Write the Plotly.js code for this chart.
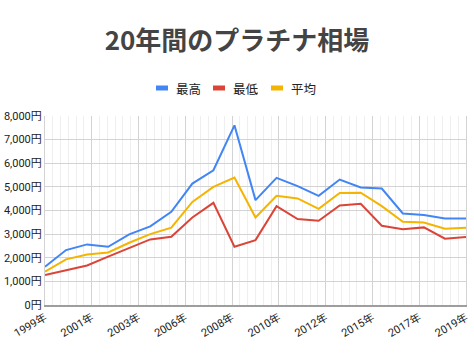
<!DOCTYPE html>
<html>
<head>
<meta charset="utf-8">
<script src="https://cdn.plot.ly/plotly-3.0.1.min.js"></script>
<style>html,body{margin:0;padding:0;background:#fff}#chart{width:474px;height:361px}</style>
</head>
<body>
<div id="chart"></div>
<script>
// Data (円)
const years = [1999,2000,2001,2002,2003,2004,2005,2006,2007,2008,2009,2010,2011,2012,2013,2014,2015,2016,2017,2018,2019];
const seriesNames = ["最高", "最低", "平均"];
const highValues = [1620,2325,2565,2465,2990,3330,3945,5140,5705,7605,4440,5380,5030,4620,5310,4975,4930,3875,3805,3665,3665];
const lowValues  = [1270,1480,1675,2045,2395,2775,2885,3705,4325,2465,2745,4185,3635,3565,4210,4285,3355,3210,3285,2805,2875];
const avgValues  = [1410,1930,2140,2225,2635,3000,3270,4365,5000,5395,3705,4620,4510,4070,4745,4750,4185,3520,3495,3225,3270];
const xTickLabels = ["1999年","2001年","2003年","2006年","2008年","2010年","2012年","2015年","2017年","2019年"];
const yTickValues = [0,1000,2000,3000,4000,5000,6000,7000,8000];

const colors = ["#4285F4", "#DB4437", "#F4B400"];
const W = 474, H = 361;
const M = {l: 45, r: 8, t: 116, b: 56};
const pw = W - M.l - M.r, ph = H - M.t - M.b;
const px = x => (x - M.l) / pw;
const py = y => (H - M.b - y) / ph;

const xMin = years[0], xMax = years[years.length - 1];
const nMajor = xTickLabels.length - 1;
const majorStep = (xMax - xMin) / nMajor;
const xTickVals = xTickLabels.map((_, i) => xMin + i * majorStep);

const font = 'Roboto, "Noto Sans CJK JP", sans-serif';
const allSeries = [highValues, lowValues, avgValues];
const traces = allSeries.map((vals, i) => ({
  type: "scatter", mode: "lines", x: years, y: vals, name: seriesNames[i],
  line: {color: colors[i], width: 2}, showlegend: false, hoverinfo: "x+y"
}));

// manual legend (swatches + labels)
const legendX = [156, 213, 271];
const shapes = [];
const annotations = [];
seriesNames.forEach((n, i) => {
  shapes.push({type: "rect", xref: "paper", yref: "paper",
    x0: px(legendX[i]), x1: px(legendX[i] + 12), y0: py(90.5), y1: py(85.5),
    fillcolor: colors[i], line: {width: 0}});
  annotations.push({xref: "paper", yref: "paper", x: px(legendX[i] + 18), y: py(88),
    xanchor: "left", yanchor: "middle", showarrow: false, text: n,
    font: {family: '"Noto Sans CJK JP", sans-serif', size: 12.5, color: "#222"}});
});

const layout = {
  width: W, height: H, margin: M, paper_bgcolor: "#fff", plot_bgcolor: "#fff",
  showlegend: false,
  title: {text: "20年間のプラチナ相場", x: 0.5, xanchor: "center", xref: "container",
    y: 1 - 41 / H, yanchor: "middle", yref: "container",
    font: {family: '"Noto Sans CJK JP", sans-serif', size: 26, weight: 700, color: "#444"}},
  xaxis: {range: [xMin, xMax], tickmode: "array", tickvals: xTickVals, ticktext: xTickLabels,
    tickangle: -30, tickfont: {family: font, size: 11, color: "#222"}, ticks: "",
    showgrid: true, gridcolor: "#d3d3d3", gridwidth: 1, zeroline: false,
    showline: true, linecolor: "#9e9e9e", linewidth: 2,
    minor: {tick0: xMin, dtick: majorStep / 6, showgrid: true, gridcolor: "#efefef", gridwidth: 1, ticks: ""},
    fixedrange: true},
  yaxis: {range: [0, 8000], tickmode: "array", tickvals: yTickValues,
    ticktext: yTickValues.map(v => v.toLocaleString("en-US") + "円"),
    tickfont: {family: font, size: 11, color: "#222"}, ticks: "",
    showgrid: true, gridcolor: "#d3d3d3", gridwidth: 1, zeroline: false,
    showline: true, mirror: true, linecolor: "#d3d3d3", linewidth: 1, fixedrange: true},
  shapes: shapes, annotations: annotations
};
Plotly.newPlot("chart", traces, layout, {displayModeBar: false, staticPlot: true});
</script>
</body>
</html>
